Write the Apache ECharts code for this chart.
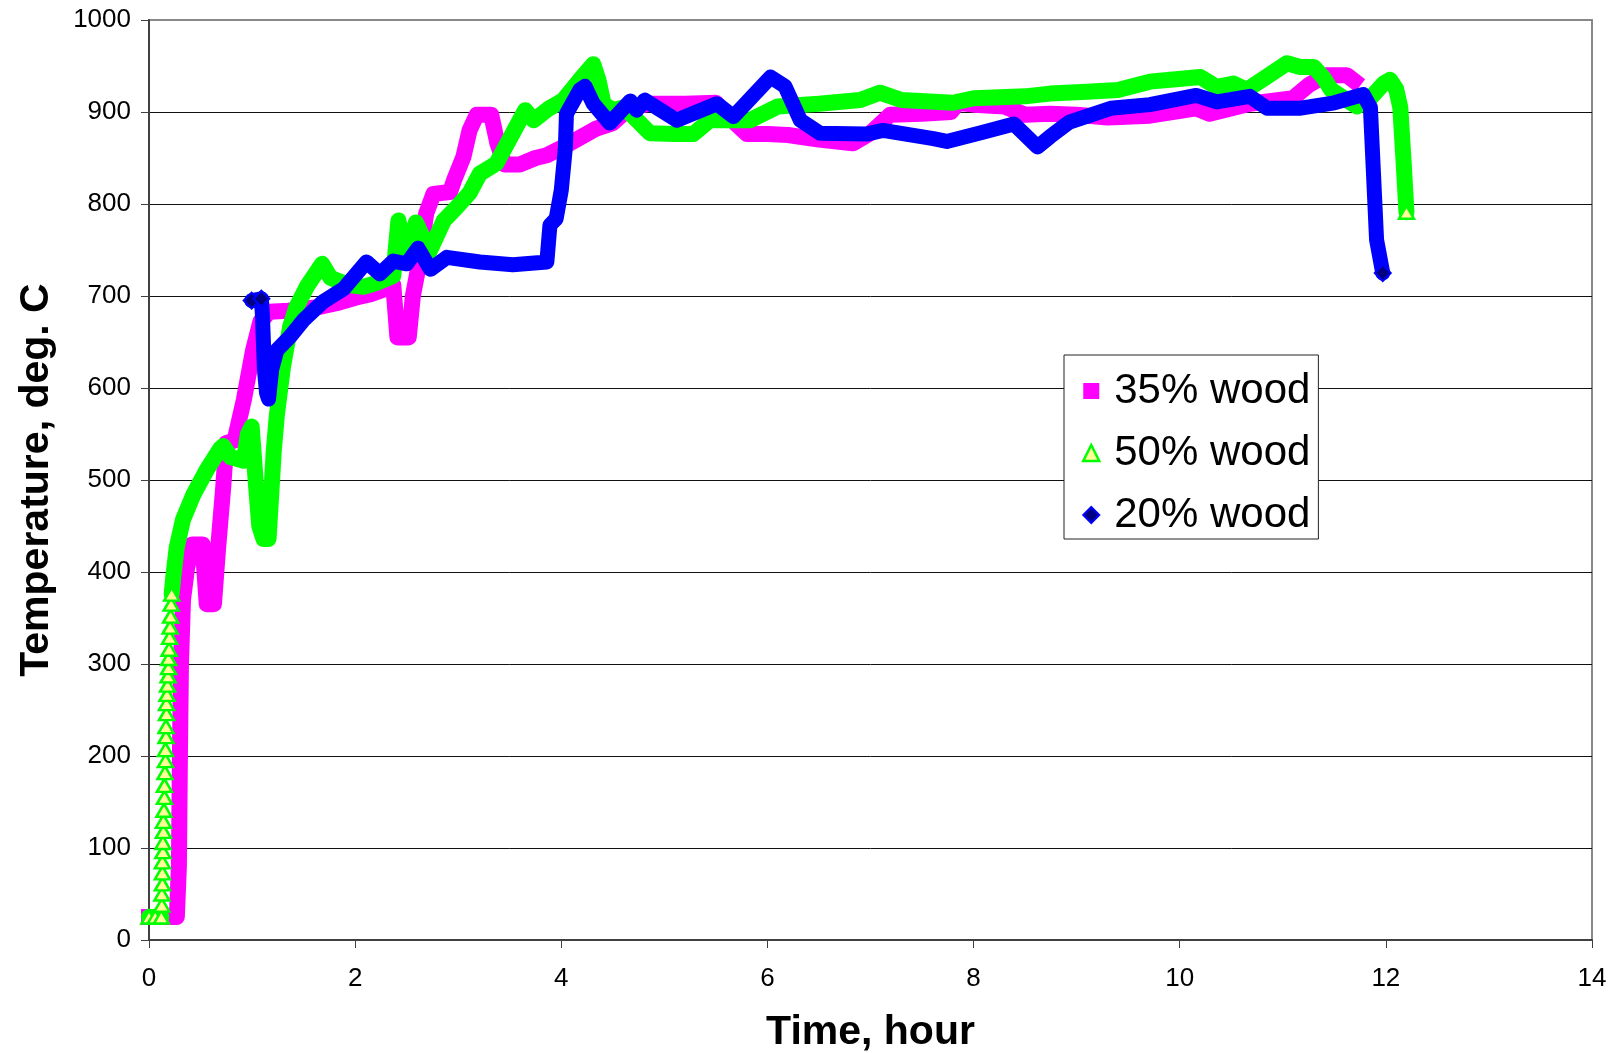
<!DOCTYPE html>
<html>
<head>
<meta charset="utf-8">
<script src="https://cdn.jsdelivr.net/npm/echarts@6/dist/echarts.min.js"></script>
<style>
html,body{margin:0;padding:0;background:#fff;}
#chart{width:1613px;height:1053px;}
</style>
</head>
<body>
<div id="chart"></div>
<script>
// ---- Data ----
const seriesNames = ['35% wood', '50% wood', '20% wood'];

// 35% wood (time in hours, temperature in deg. C)
const time35 = [0, 0.27, 0.29, 0.30, 0.31, 0.33, 0.37, 0.42, 0.52, 0.56, 0.63, 0.67, 0.72, 0.75, 0.83, 0.92, 1.01, 1.08, 1.17, 1.35, 1.5, 1.65, 1.85, 2.0, 2.15, 2.3, 2.37, 2.41, 2.52, 2.56, 2.62, 2.69, 2.76, 2.92, 2.96, 3.05, 3.11, 3.18, 3.32, 3.38, 3.45, 3.6, 3.75, 3.86, 4.02, 4.18, 4.34, 4.5, 4.67, 4.86, 5.2, 5.5, 5.65, 5.8, 6.0, 6.2, 6.5, 6.83, 7.0, 7.19, 7.5, 7.78, 7.85, 8.0, 8.3, 8.5, 8.74, 9.0, 9.3, 9.71, 10.16, 10.29, 10.68, 11.1, 11.26, 11.42, 11.62, 11.69];
const temp35 = [25, 25, 80, 200, 300, 370, 405, 430, 430, 365, 365, 425, 492, 540, 543, 587, 641, 672, 683, 684, 686, 688, 693, 698, 702, 708, 712, 655, 655, 700, 735, 790, 811, 813, 826, 851, 880, 897, 897, 866, 843, 843, 850, 853, 862, 872, 882, 888, 905, 909, 909, 910, 892, 876, 876, 875, 870, 866, 877, 897, 898, 900, 910, 908, 906, 897, 898, 897, 894, 896, 904, 898, 909, 915, 930, 940, 940, 934];

// 50% wood
const time50 = [0.0, 0.06, 0.12, 0.125, 0.125, 0.13, 0.13, 0.13, 0.135, 0.135, 0.14, 0.14, 0.145, 0.15, 0.15, 0.155, 0.16, 0.16, 0.165, 0.165, 0.17, 0.17, 0.175, 0.18, 0.185, 0.19, 0.19, 0.195, 0.2, 0.205, 0.21, 0.215, 0.22, 0.236, 0.268, 0.33, 0.43, 0.56, 0.69, 0.72, 0.79, 0.92, 0.96, 0.996, 1.04, 1.07, 1.11, 1.16, 1.19, 1.21, 1.24, 1.30, 1.37, 1.43, 1.53, 1.68, 1.76, 1.82, 1.95, 2.08, 2.2, 2.37, 2.42, 2.49, 2.59, 2.72, 2.86, 2.99, 3.11, 3.21, 3.37, 3.53, 3.65, 3.73, 3.87, 4.02, 4.18, 4.31, 4.36, 4.41, 4.5, 4.6, 4.7, 4.86, 5.1, 5.28, 5.44, 5.83, 6.1, 6.5, 6.9, 7.09, 7.3, 7.8, 8.0, 8.5, 8.74, 9.1, 9.4, 9.71, 9.91, 10.2, 10.36, 10.52, 10.65, 10.84, 11.04, 11.17, 11.30, 11.39, 11.47, 11.62, 11.72, 11.85, 11.98, 12.04, 12.1, 12.14, 12.17, 12.2];
const temp50 = [25, 25, 25, 38, 50, 61, 73, 85, 96, 106, 118, 129, 141, 155, 168, 182, 195, 207, 221, 232, 246, 257, 267, 277, 287, 296, 306, 316, 329, 340, 352, 365, 376, 395, 426, 457, 484, 511, 534, 537, 525, 521, 550, 558, 492, 450, 436, 436, 492, 531, 570, 623, 667, 688, 710, 735, 720, 717, 712, 710, 714, 722, 782, 745, 780, 748, 782, 797, 812, 833, 844, 877, 902, 891, 903, 913, 935, 952, 935, 909, 902, 905, 895, 877, 876, 876, 891, 891, 906, 909, 913, 921, 913, 910, 915, 917, 920, 922, 924, 933, 935, 938, 927, 931, 924, 938, 953, 949, 949, 938, 924, 913, 906, 915, 931, 935, 925, 905, 850, 791];

// 20% wood
const time20 = [0.996, 1.09, 1.10, 1.11, 1.12, 1.14, 1.16, 1.19, 1.24, 1.37, 1.50, 1.69, 1.89, 2.11, 2.24, 2.37, 2.50, 2.61, 2.73, 2.89, 3.21, 3.53, 3.86, 3.89, 3.95, 4.00, 4.04, 4.05, 4.18, 4.23, 4.31, 4.47, 4.67, 4.73, 4.81, 5.12, 5.51, 5.67, 6.03, 6.17, 6.32, 6.51, 6.96, 7.12, 7.61, 7.74, 8.09, 8.39, 8.62, 8.74, 8.93, 9.33, 9.71, 10.16, 10.36, 10.68, 10.85, 11.16, 11.5, 11.78, 11.85, 11.88, 11.91, 11.97];
const temp20 = [695, 697, 680, 650, 620, 595, 588, 620, 641, 656, 674, 694, 708, 737, 724, 738, 735, 752, 729, 742, 737, 734, 737, 777, 784, 815, 862, 898, 924, 928, 909, 888, 912, 902, 913, 891, 909, 895, 938, 928, 891, 877, 876, 880, 871, 868, 878, 887, 862, 873, 889, 904, 908, 918, 911, 917, 904, 904, 910, 919, 905, 833, 761, 725];

// ---- Build chart ----
const FONT = "'Liberation Sans', Arial, Helvetica, sans-serif";
const RISE_START = 3;   // first point of the sparse (marker-only) rise of the 50% series
const RISE_END = 32;    // last point of that rise

function pairs(t, v) { return t.map((x, i) => [x, v[i]]); }

const all50 = pairs(time50, temp50);
// band part of the 50% series: the rise is shown only as separate triangles
const band50 = all50.map((p, i) => (i >= RISE_START && i < RISE_END) ? null : p);
// triangles along the rise (and at the bottom and the final point)
const marks50 = all50.map((p, i, arr) =>
  (i <= RISE_END || i === arr.length - 1) ? p : null);

const data35 = pairs(time35, temp35);
const data20 = pairs(time20, temp20).map((p, i, arr) => {
  if (i < 2 || i === arr.length - 1) {
    return { value: p, symbol: 'diamond', symbolSize: 16 };
  }
  return p;
});

const chart = echarts.init(document.getElementById('chart'), null, { renderer: 'canvas' });
chart.setOption({
  animation: false,
  backgroundColor: '#fff',
  grid: {
    left: 149, right: 21, top: 20, bottom: 113,
    outerBoundsMode: 'none', containLabel: false,
    show: true, borderColor: '#888', borderWidth: 2, backgroundColor: '#fff'
  },
  xAxis: {
    type: 'value', min: 0, max: 14, interval: 2,
    name: 'Time, hour', nameLocation: 'middle', nameGap: 72,
    nameTextStyle: { fontSize: 41, fontWeight: 'bold', fontFamily: FONT, color: '#000' },
    axisLine: { show: true, onZero: false, lineStyle: { color: '#404040', width: 2 } },
    axisTick: { show: true, length: 8, lineStyle: { color: '#404040', width: 1 } },
    axisLabel: { fontSize: 26, fontFamily: FONT, color: '#000', margin: 26, formatter: v => String(v) },
    splitLine: { show: false }
  },
  yAxis: {
    type: 'value', min: 0, max: 1000, interval: 100,
    name: 'Temperature, deg. C', nameLocation: 'middle', nameGap: 92, nameRotate: 90,
    nameTextStyle: { fontSize: 41, fontWeight: 'bold', fontFamily: FONT, color: '#000' },
    axisLine: { show: true, lineStyle: { color: '#404040', width: 2 } },
    axisTick: { show: true, length: 8, lineStyle: { color: '#404040', width: 1 } },
    axisLabel: { fontSize: 26, fontFamily: FONT, color: '#000', margin: 18, formatter: v => String(v) },
    splitLine: { show: true, showMaxLine: false, lineStyle: { color: '#111', width: 1 } }
  },
  legend: {
    orient: 'vertical', left: 1064, top: 355,
    padding: [15, 8, 3, 18], itemGap: 20, itemWidth: 16, itemHeight: 16,
    backgroundColor: '#fff', borderColor: '#222', borderWidth: 1,
    textStyle: { fontSize: 42, fontFamily: FONT, color: '#000', lineHeight: 42, padding: [0, 0, 0, 10] },
    data: [
      { name: seriesNames[0], icon: 'rect', itemStyle: { color: '#ff00ff', borderWidth: 0 } },
      { name: seriesNames[1], icon: 'triangle', itemStyle: { color: '#ffff99', borderColor: '#00ff00', borderWidth: 2.5 } },
      { name: seriesNames[2], icon: 'diamond', itemStyle: { color: '#000080', borderColor: '#0000ff', borderWidth: 2 } }
    ]
  },
  series: [
    {
      name: seriesNames[0], type: 'line', data: data35, symbol: 'none', clip: false,
      lineStyle: { color: '#ff00ff', width: 16, cap: 'square', join: 'round' },
      itemStyle: { color: '#ff00ff' }, emphasis: { disabled: true }
    },
    {
      name: seriesNames[1], type: 'line', data: band50, symbol: 'none', clip: false,
      lineStyle: { color: '#00ff00', width: 16, cap: 'round', join: 'round' },
      itemStyle: { color: '#ffff99', borderColor: '#00ff00', borderWidth: 2.5 }, emphasis: { disabled: true }
    },
    {
      name: seriesNames[1], type: 'line', data: marks50, symbol: 'triangle', symbolSize: [15, 13],
      showSymbol: true, showAllSymbol: true, clip: false,
      lineStyle: { width: 0, opacity: 0 },
      itemStyle: { color: '#ffff99', borderColor: '#00ff00', borderWidth: 2.5 }, emphasis: { disabled: true }
    },
    {
      name: seriesNames[2], type: 'line', data: data20, symbol: 'none', showSymbol: true, showAllSymbol: true, clip: false,
      lineStyle: { color: '#0000ff', width: 15, cap: 'round', join: 'round' },
      itemStyle: { color: '#000080', borderColor: '#0000ff', borderWidth: 2 }, emphasis: { disabled: true }
    }
  ]
});
</script>
</body>
</html>
